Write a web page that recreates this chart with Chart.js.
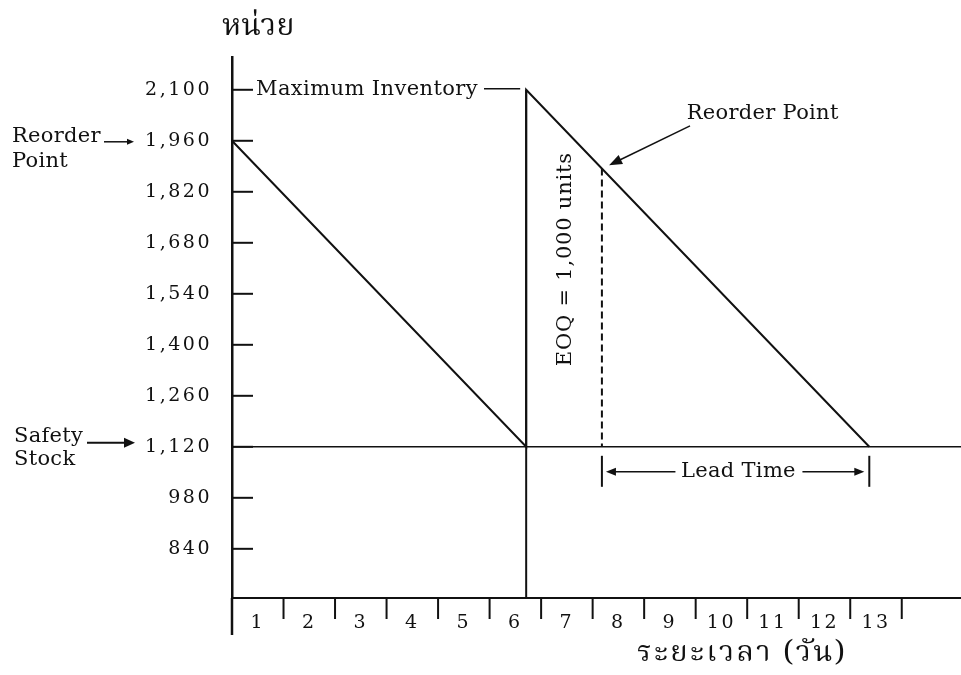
<!DOCTYPE html>
<html>
<head>
<meta charset="utf-8">
<script src="https://cdn.jsdelivr.net/npm/chart.js@4/dist/chart.umd.min.js"></script>
<style>
  html, body { margin: 0; padding: 0; background: #ffffff; }
  #wrap { width: 961px; height: 675px; position: relative; }
</style>
</head>
<body>
<div id="wrap"><canvas id="c"></canvas></div>
<script>
// ---- data ----
const dayLabels = ['1','2','3','4','5','6','7','8','9','10','11','12','13'];
const dayBoundaries = [0,1,2,3,4,5,6,7,8,9,10,11,12,13];
const yTickValues = [840, 980, 1120, 1260, 1400, 1540, 1680, 1820, 1960, 2100];

const stockDays  = [0, 5.71, 5.71, 12.37];
const stockUnits = [1960, 1120, 2100, 1120];

const orderDay = 5.71;          // replenishment arrives (vertical line)
const maxInventory = 2100;
const safetyStock = 1120;
const reorderDay = 7.18;
const reorderUnits = 1884;
const leadTimeEndDay = 12.37;

const yMin = 705, yMax = 2190;
const xMin = 0, xMax = 14.15;

const yAxisTitle = 'หน่วย';
const xAxisTitle = 'ระยะเวลา (วัน)';

// ---- build datasets ----
const pts = (xs, ys) => xs.map((x, i) => ({ x: x, y: ys[i] }));
const INK = '#111111';
const serif = '"DejaVu Serif", "Liberation Serif", serif';
const thai = '"Noto Serif Thai", "Norasi", "Garuda", "Loma", "Noto Sans Thai", "Noto Sans", "DejaVu Sans", sans-serif';

const datasets = [
  { label: 'Inventory', data: pts(stockDays, stockUnits), borderColor: INK, borderWidth: 2 },
  { label: 'Replenishment', data: [{x: orderDay, y: maxInventory}, {x: orderDay, y: yMin}], borderColor: INK, borderWidth: 2 },
  { label: 'Safety Stock', data: [{x: xMin, y: safetyStock}, {x: xMax, y: safetyStock}], borderColor: INK, borderWidth: 1.6 },
  { label: 'Reorder', data: [{x: reorderDay, y: reorderUnits}, {x: reorderDay, y: safetyStock}], borderColor: INK, borderWidth: 2, borderDash: [7, 4] }
];
datasets.forEach(d => { d.pointRadius = 0; d.tension = 0; d.fill = false; d.showLine = true; });

// ---- helpers ----
function arrow(ctx, x1, y1, x2, y2, len, half, lw) {
  const a = Math.atan2(y2 - y1, x2 - x1);
  ctx.beginPath();
  ctx.lineWidth = lw;
  ctx.moveTo(x1, y1);
  ctx.lineTo(x2 - Math.cos(a) * len * 0.6, y2 - Math.sin(a) * len * 0.6);
  ctx.stroke();
  ctx.beginPath();
  ctx.moveTo(x2, y2);
  ctx.lineTo(x2 - Math.cos(a) * len - Math.sin(a) * half, y2 - Math.sin(a) * len + Math.cos(a) * half);
  ctx.lineTo(x2 - Math.cos(a) * len + Math.sin(a) * half, y2 - Math.sin(a) * len - Math.cos(a) * half);
  ctx.closePath();
  ctx.fill();
}
function text(ctx, str, x, y, font, align, spacing) {
  ctx.font = font;
  ctx.letterSpacing = (spacing || 0) + 'px';
  ctx.textAlign = align || 'left';
  ctx.textBaseline = 'middle';
  ctx.fillText(str, x, y);
}

const spacingPlugin = {
  id: 'spacing',
  beforeDraw(chart) { chart.ctx.letterSpacing = '2.5px'; }
};

const marksPlugin = {
  id: 'marks',
  afterDraw(chart) {
    const ctx = chart.ctx;
    const xs = chart.scales.x, ys = chart.scales.y;
    const area = chart.chartArea;
    const X = v => xs.getPixelForValue(v);
    const Y = v => ys.getPixelForValue(v);
    ctx.save();
    ctx.strokeStyle = INK;
    ctx.fillStyle = INK;
    ctx.lineCap = 'butt';

    // y tick marks (inward)
    ctx.lineWidth = 2;
    yTickValues.forEach(v => {
      ctx.beginPath();
      ctx.moveTo(area.left, Y(v));
      ctx.lineTo(area.left + 21, Y(v));
      ctx.stroke();
    });
    // x tick marks (hanging below axis)
    dayBoundaries.forEach(d => {
      ctx.beginPath();
      ctx.lineWidth = d === 0 ? 2.5 : 2;
      ctx.moveTo(X(d), area.bottom);
      ctx.lineTo(X(d), area.bottom + (d === 0 ? 37 : 21));
      ctx.stroke();
    });

    // lead time brackets
    ctx.lineWidth = 2;
    [reorderDay, leadTimeEndDay].forEach(d => {
      ctx.beginPath();
      ctx.moveTo(X(d), Y(safetyStock) + 9);
      ctx.lineTo(X(d), Y(safetyStock) + 40);
      ctx.stroke();
    });
    const ly = Y(safetyStock) + 25;
    text(ctx, 'Lead Time', X(9.83), ly, '21px ' + serif, 'center', 0.3);
    arrow(ctx, X(9.83) - 63, ly, X(reorderDay) + 4, ly, 10, 4, 1.5);
    arrow(ctx, X(9.83) + 64, ly, X(leadTimeEndDay) - 5, ly, 10, 4, 1.5);

    // Maximum Inventory label + leader
    text(ctx, 'Maximum Inventory', area.left + 24, Y(maxInventory), '21px ' + serif, 'left', 0.4);
    ctx.lineWidth = 1.5;
    ctx.beginPath();
    ctx.moveTo(area.left + 252, Y(maxInventory) - 1);
    ctx.lineTo(X(orderDay) - 6, Y(maxInventory) - 1);
    ctx.stroke();

    // Reorder Point (top right) with arrow
    text(ctx, 'Reorder Point', X(10.3), Y(2100) + 24, '21px ' + serif, 'center', 0.3);
    arrow(ctx, X(8.89), Y(2001), X(7.32), Y(1893), 13, 5, 1.5);

    // EOQ rotated label
    ctx.save();
    ctx.translate(X(6.47), Y(1635));
    ctx.rotate(-Math.PI / 2);
    text(ctx, 'EOQ = 1,000 units', 0, 0, '21px ' + serif, 'center', 0.8);
    ctx.restore();

    // left-side notes
    text(ctx, 'Reorder', 12, Y(1960) - 4, '21px ' + serif, 'left', 0.3);
    text(ctx, 'Point', 12, Y(1960) + 21, '21px ' + serif, 'left', 0.3);
    arrow(ctx, 104, Y(1960) + 1, 134, Y(1960) + 1, 7, 3, 1.5);
    text(ctx, 'Safety', 14, Y(safetyStock) - 10, '21px ' + serif, 'left', 0.3);
    text(ctx, 'Stock', 14, Y(safetyStock) + 13, '21px ' + serif, 'left', 0.3);
    arrow(ctx, 87, Y(safetyStock) - 4, 135, Y(safetyStock) - 4, 11, 5, 2);

    // axis titles
    text(ctx, yAxisTitle, area.left - 10, 30, '30px ' + thai, 'left', 0.5);
    text(ctx, xAxisTitle, 637, 656, '29px ' + thai, 'left', 2.5);

    ctx.restore();
  }
};

new Chart(document.getElementById('c'), {
  type: 'line',
  data: { datasets: datasets },
  plugins: [spacingPlugin, marksPlugin],
  options: {
    responsive: true,
    maintainAspectRatio: false,
    animation: false,
    devicePixelRatio: 1,
    layout: { padding: { top: 57, left: 0, right: 0, bottom: 0 } },
    plugins: { legend: { display: false }, tooltip: { enabled: false } },
    scales: {
      x: {
        type: 'linear',
        min: xMin, max: xMax,
        grid: { display: false, drawTicks: false },
        border: { display: true, color: INK, width: 2 },
        afterFit: s => { s.height = 77; },
        afterBuildTicks: s => { s.ticks = dayLabels.map((l, i) => ({ value: i + 0.5 })); },
        ticks: {
          autoSkip: false, maxRotation: 0, padding: 14,
          color: INK,
          font: { family: serif, size: 19 },
          callback: (v, i) => dayLabels[i]
        }
      },
      y: {
        type: 'linear',
        min: yMin, max: yMax,
        grid: { display: false, drawTicks: false },
        border: { display: true, color: INK, width: 2.5 },
        afterFit: s => { s.width = 232; },
        afterBuildTicks: s => { s.ticks = yTickValues.map(v => ({ value: v })); },
        ticks: {
          padding: 20,
          color: INK,
          font: { family: serif, size: 19 },
          callback: v => v.toLocaleString('en-US')
        }
      }
    }
  }
});
</script>
</body>
</html>
